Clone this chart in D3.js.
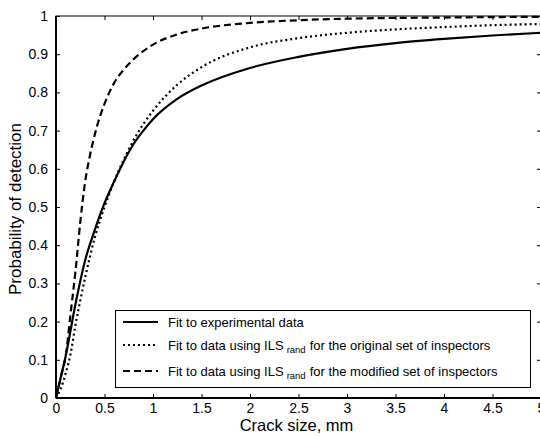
<!DOCTYPE html>
<html lang="en">
<head>
	<meta charset="utf-8">
	<title>POD curves</title>
	<script src="https://cdn.jsdelivr.net/npm/d3@7"></script>
	<style>
		body { margin: 0; background: #fff; }
		text { font-family: Arial, "Liberation Sans", sans-serif; fill: #000; }
	</style>
</head>
<body>
<script>
	// crack size (mm) and probability of detection for each fit
	var expX = [0, 0.05, 0.1, 0.2, 0.3, 0.4, 0.5, 0.6, 0.7, 0.8, 0.9, 1.0, 1.25, 1.5, 2.0, 2.5, 3.0, 3.5, 4.0, 4.5, 5.0];
	var expY = [0, 0.055, 0.11, 0.245, 0.36, 0.44, 0.51, 0.567, 0.62, 0.665, 0.70, 0.73, 0.783, 0.818, 0.864, 0.893, 0.914, 0.929, 0.94, 0.949, 0.956];

	var origX = [0, 0.05, 0.1, 0.15, 0.2, 0.25, 0.3, 0.4, 0.5, 0.6, 0.7, 0.8, 0.9, 1.0, 1.25, 1.5, 2.0, 2.5, 3.0, 3.5, 4.0, 4.5, 5.0];
	var origY = [0, 0.025, 0.065, 0.115, 0.19, 0.255, 0.315, 0.42, 0.50, 0.567, 0.625, 0.675, 0.717, 0.752, 0.82, 0.866, 0.918, 0.942, 0.956, 0.965, 0.971, 0.976, 0.979];

	var modX = [0, 0.05, 0.1, 0.15, 0.2, 0.25, 0.3, 0.35, 0.4, 0.5, 0.6, 0.7, 0.8, 0.9, 1.0, 1.25, 1.5, 2.0, 2.5, 3.0, 4.0, 5.0];
	var modY = [0, 0.055, 0.11, 0.22, 0.33, 0.46, 0.565, 0.635, 0.69, 0.77, 0.825, 0.86, 0.887, 0.908, 0.925, 0.952, 0.967, 0.982, 0.989, 0.993, 0.996, 0.998];

	var xTicks = [0, 0.5, 1, 1.5, 2, 2.5, 3, 3.5, 4, 4.5, 5];
	var yTicks = [0, 0.1, 0.2, 0.3, 0.4, 0.5, 0.6, 0.7, 0.8, 0.9, 1];

	var legendLabels = ["Fit to experimental data",
		"Fit to data using ILS|rand|for the original set of inspectors",
		"Fit to data using ILS|rand|for the modified set of inspectors"];

	var w = 540, h = 436;
	var pLeft = 56, pRight = 541, pTop = 16, pBottom = 398;

	var svg = d3.select("body").append("svg")
		.attr("width", w)
		.attr("height", h);

	var x = d3.scaleLinear().domain([0, 5]).range([pLeft, pRight]);
	var y = d3.scaleLinear().domain([0, 1]).range([pBottom, pTop]);

	var series = [
		{ xs: expX, ys: expY, dash: null },
		{ xs: origX, ys: origY, dash: "2,3" },
		{ xs: modX, ys: modY, dash: "7,4" }
	];

	var line = d3.line()
		.x(function (d) { return x(d[0]); })
		.y(function (d) { return y(d[1]); })
		.curve(d3.curveMonotoneX);

	series.forEach(function (s) {
		svg.append("path")
			.datum(d3.zip(s.xs, s.ys))
			.attr("d", line)
			.attr("fill", "none")
			.attr("stroke", "#000")
			.attr("stroke-width", 2.2)
			.attr("stroke-dasharray", s.dash);
	});

	// frame with inward ticks (matlab style)
	svg.append("rect")
		.attr("x", pLeft).attr("y", pTop)
		.attr("width", pRight - pLeft).attr("height", pBottom - pTop)
		.attr("fill", "none").attr("stroke", "#000").attr("stroke-width", 1);
	svg.append("line").attr("x1", pLeft).attr("x2", pLeft).attr("y1", pTop).attr("y2", pBottom)
		.attr("stroke", "#000").attr("stroke-width", 2);
	svg.append("line").attr("x1", pLeft).attr("x2", pRight).attr("y1", pBottom).attr("y2", pBottom)
		.attr("stroke", "#000").attr("stroke-width", 2);

	var xAxis = svg.append("g").attr("transform", "translate(0," + pBottom + ")")
		.call(d3.axisBottom(x).tickValues(xTicks).tickSize(-4).tickPadding(5).tickFormat(d3.format("")));
	var xAxisTop = svg.append("g").attr("transform", "translate(0," + pTop + ")")
		.call(d3.axisTop(x).tickValues(xTicks).tickSize(-4).tickFormat(""));
	var yAxis = svg.append("g").attr("transform", "translate(" + pLeft + ",0)")
		.call(d3.axisLeft(y).tickValues(yTicks).tickSize(-4).tickPadding(8).tickFormat(d3.format("")));
	var yAxisRight = svg.append("g").attr("transform", "translate(" + pRight + ",0)")
		.call(d3.axisRight(y).tickValues(yTicks).tickSize(-4).tickFormat(""));

	[xAxis, xAxisTop, yAxis, yAxisRight].forEach(function (g) {
		g.select(".domain").remove();
		g.selectAll("line").attr("stroke", "#000");
		g.selectAll("text").attr("font-size", "14px").attr("font-family", "Arial, 'Liberation Sans', sans-serif");
	});

	svg.append("text")
		.attr("x", (pLeft + pRight) / 2 - 2)
		.attr("y", 431)
		.attr("text-anchor", "middle")
		.attr("font-size", "16.5px")
		.text("Crack size, mm");

	svg.append("text")
		.attr("transform", "translate(21," + ((pTop + pBottom) / 2 + 2) + ") rotate(-90)")
		.attr("text-anchor", "middle")
		.attr("font-size", "17px")
		.text("Probability of detection");

	// legend
	var lg = svg.append("g");
	lg.append("rect")
		.attr("x", 115.5).attr("y", 310.5)
		.attr("width", 415).attr("height", 77)
		.attr("fill", "#fff").attr("stroke", "#000").attr("stroke-width", 1);

	var rowY = [322, 345, 371];
	legendLabels.forEach(function (lab, i) {
		lg.append("line")
			.attr("x1", 123).attr("x2", 158)
			.attr("y1", rowY[i]).attr("y2", rowY[i])
			.attr("stroke", "#000").attr("stroke-width", 2.2)
			.attr("stroke-dasharray", series[i].dash);
		var parts = lab.split("|");
		var t = lg.append("text")
			.attr("x", 168).attr("y", rowY[i] + 4.5)
			.attr("font-size", "13px");
		t.append("tspan").text(parts[0]);
		if (parts.length > 1) {
			t.append("tspan").attr("font-size", "9.5px").attr("dx", 3).attr("dy", 3).text(parts[1]);
			t.append("tspan").attr("dx", 4).attr("dy", -3).text(parts[2]);
		}
	});
</script>
</body>
</html>
